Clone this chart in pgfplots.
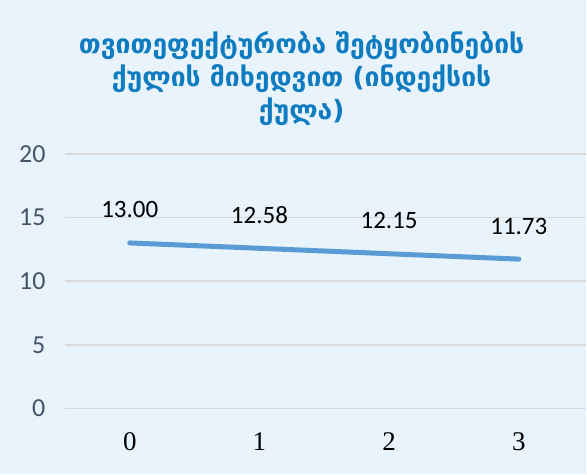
\documentclass[border=0pt]{standalone}
\usepackage{fontspec}
\usepackage{pgfplots}
\pgfplotsset{compat=1.18}
\setmainfont{Carlito}
\newfontfamily\geofont{DejaVu Sans}
\newfontfamily\serifnum{Liberation Serif}
\definecolor{bg}{HTML}{E9F3FB}
\definecolor{titleblue}{HTML}{0F7BC0}
\definecolor{ticklab}{HTML}{44546A}
\definecolor{gridc}{HTML}{D9D9D9}
\definecolor{lineblue}{HTML}{5B9BD5}
\begin{document}
\begin{tikzpicture}[x=1pt,y=1pt]
\fill[bg] (0,0) rectangle (587,475);
\node[align=center, font=\geofont\bfseries\fontsize{26.5}{33}\selectfont, text=titleblue] at (302,396)
 {თვითეფექტურობა შეტყობინების\\ქულის მიხედვით (ინდექსის\\ქულა)};
\begin{axis}[
  at={(65pt,66pt)}, anchor=south west,
  scale only axis, width=522pt, height=255pt,
  xmin=-0.5, xmax=3.52, ymin=0, ymax=20,
  xtick={0,1,2,3}, xticklabels={0,1,2,3},
  ytick={0,5,10,15,20},
  axis line style={draw=none},
  major tick length=0pt,
  ymajorgrids, grid style={gridc, line width=1.5pt},
  /pgf/number format/assume math mode=true,
  yticklabel style={font=\fontsize{26}{26}\selectfont, text=ticklab, anchor=east, xshift=-16pt},
  xticklabel style={font=\serifnum\fontsize{27}{27}\selectfont, text=black, anchor=center, yshift=-33pt},
  nodes near coords={\pgfmathprintnumber[fixed, fixed zerofill, precision=2]{\pgfplotspointmeta}},
  nodes near coords style={font=\fontsize{25}{25}\selectfont, text=black, anchor=center, yshift=33pt},
  clip=false,
]
\addplot[lineblue, line width=5pt, line cap=round, mark=none] coordinates {(0,13.00) (1,12.58) (2,12.15) (3,11.73)};
\end{axis}
\end{tikzpicture}
\end{document}
